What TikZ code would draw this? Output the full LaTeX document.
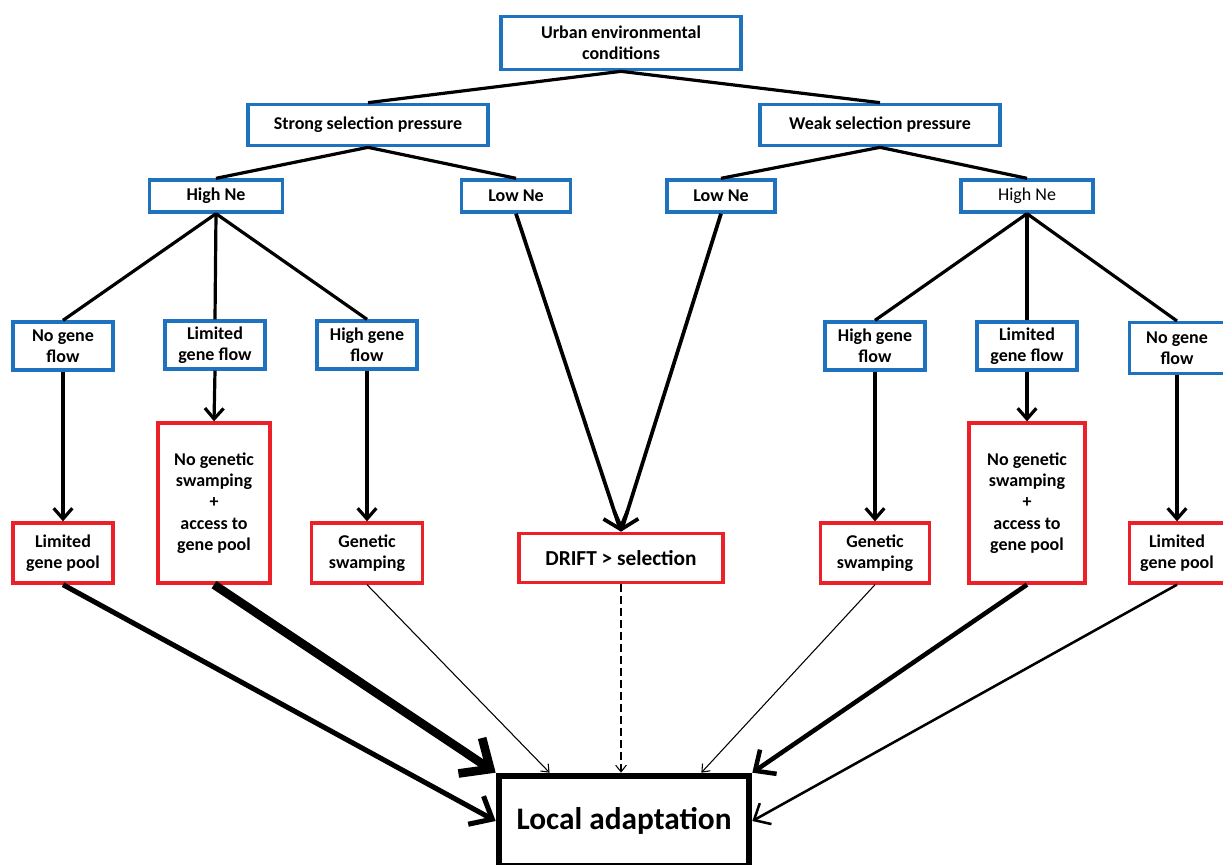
\documentclass[tikz,border=0pt]{standalone}
\usepackage{fontspec}
\setmainfont{Carlito}
\usetikzlibrary{arrows.meta}
\definecolor{boxblue}{RGB}{30,114,190}
\definecolor{boxred}{RGB}{235,32,40}
\tikzset{
  bluebox/.style={draw=boxblue,line width=2.5pt,align=center,inner sep=0pt,
    font=\bfseries\fontsize{13.5}{16}\selectfont},
  redbox/.style={bluebox,draw=boxred},
  flowbox/.style={bluebox,minimum width=75pt,minimum height=36pt},
  branch/.style={line width=2.4pt},
  down/.style={line width=2.4pt,-{Straight Barb[length=8pt,width=14pt]}},
  drift/.style={line width=2.8pt,-{Straight Barb[length=11pt,width=19pt]}},
  thin/.style={line width=0.8pt,-{Straight Barb[length=5pt,width=8pt]}},
}
\begin{document}
\begin{tikzpicture}[x=0.75pt,y=-0.75pt]
\useasboundingbox (0,0) rectangle (1223,864);
\node[bluebox,minimum width=180pt,minimum height=40pt] (urban) at (621,43) {Urban environmental\\conditions};
\node[bluebox,minimum width=180pt,minimum height=31pt] (strong) at (368,125) {Strong selection pressure};
\node[bluebox,minimum width=180pt,minimum height=31pt] (weak) at (880,125) {Weak selection pressure};
\node[bluebox,minimum width=100pt,minimum height=24pt] (highL) at (216,196) {High Ne};
\node[bluebox,minimum width=82pt,minimum height=24pt] (lowL) at (516,196) {Low Ne};
\node[bluebox,minimum width=81pt,minimum height=24pt] (lowR) at (721,196) {Low Ne};
\node[bluebox,minimum width=99pt,minimum height=24pt,font=\fontsize{13.5}{16}\selectfont] (highR) at (1027,196) {High Ne};

\node[flowbox] (noflowL) at (63,346) {No gene\\flow};
\node[flowbox] (limflowL) at (215,345) {Limited\\gene flow};
\node[flowbox] (hiflowL) at (367,345) {High gene\\flow};
\node[flowbox] (hiflowR) at (875,346) {High gene\\flow};
\node[flowbox] (limflowR) at (1027,346) {Limited\\gene flow};
\node[flowbox,minimum width=71pt,minimum height=38pt] (noflowR) at (1177,348) {No gene\\flow};

\node[redbox,minimum width=75pt,minimum height=45pt] (poolL) at (63,553) {Limited\\gene pool};
\node[redbox,minimum width=84pt,minimum height=120pt] (noswampL) at (214,503) {No genetic\\swamping\\+\\access to\\gene pool};
\node[redbox,minimum width=83pt,minimum height=45pt] (swampL) at (367,553) {Genetic\\swamping};
\node[redbox,minimum width=153pt,minimum height=37pt,font=\bfseries\fontsize{16}{18}\selectfont] (driftsel) at (621,558) {DRIFT > selection};
\node[redbox,minimum width=82pt,minimum height=45pt] (swampR) at (875,553) {Genetic\\swamping};
\node[redbox,minimum width=87pt,minimum height=120pt] (noswampR) at (1027,503) {No genetic\\swamping\\+\\access to\\gene pool};
\node[redbox,minimum width=71pt,minimum height=45pt] (poolR) at (1177,553) {Limited\\gene pool};

\node[draw,line width=4.5pt,minimum width=188pt,minimum height=68pt,inner sep=0pt,
  font=\bfseries\fontsize{23.5}{26}\selectfont] (local) at (624,821) {Local adaptation};

\draw[branch] (urban.south) -- (strong.north);
\draw[branch] (urban.south) -- (weak.north);
\draw[branch] (strong.south) -- (highL.north);
\draw[branch] (strong.south) -- (lowL.north);
\draw[branch] (weak.south) -- (lowR.north);
\draw[branch] (weak.south) -- (highR.north);
\draw[branch] (highL.south) -- (noflowL.north);
\draw[branch] (highL.south) -- (limflowL.north);
\draw[branch] (highL.south) -- (hiflowL.north);
\draw[branch] (highR.south) -- (hiflowR.north);
\draw[branch] (highR.south) -- (limflowR.north);
\draw[branch] (highR.south) -- (noflowR.north);

\draw[down] (noflowL.south) -- (poolL.north);
\draw[down] (limflowL.south) -- (noswampL.north);
\draw[down] (hiflowL.south) -- (swampL.north);
\draw[down] (hiflowR.south) -- (swampR.north);
\draw[down] (limflowR.south) -- (noswampR.north);
\draw[down] (noflowR.south) -- (poolR.north);
\draw[drift] (lowL.south) -- (driftsel.north);
\draw[drift] (lowR.south) -- (driftsel.north);

\draw[line width=3.8pt,-{Straight Barb[length=14pt,width=24pt]}] (poolL.south) -- (local.west);
\draw[line width=6.5pt,-{Straight Barb[length=18pt,width=32pt]}] (noswampL.south) -- (local.north west);
\draw[thin] (swampL.south) -- (local.147);
\draw[thin,dash pattern=on 6pt off 3pt] (driftsel.south) -- (driftsel.south |- local.north);
\draw[thin] (swampR.south) -- (local.32);
\draw[line width=3.4pt,-{Straight Barb[length=12pt,width=22pt]}] (noswampR.south) -- (local.north east);
\draw[line width=1.9pt,-{Straight Barb[length=10pt,width=18pt]}] (poolR.south) -- (local.east);
\end{tikzpicture}
\end{document}
